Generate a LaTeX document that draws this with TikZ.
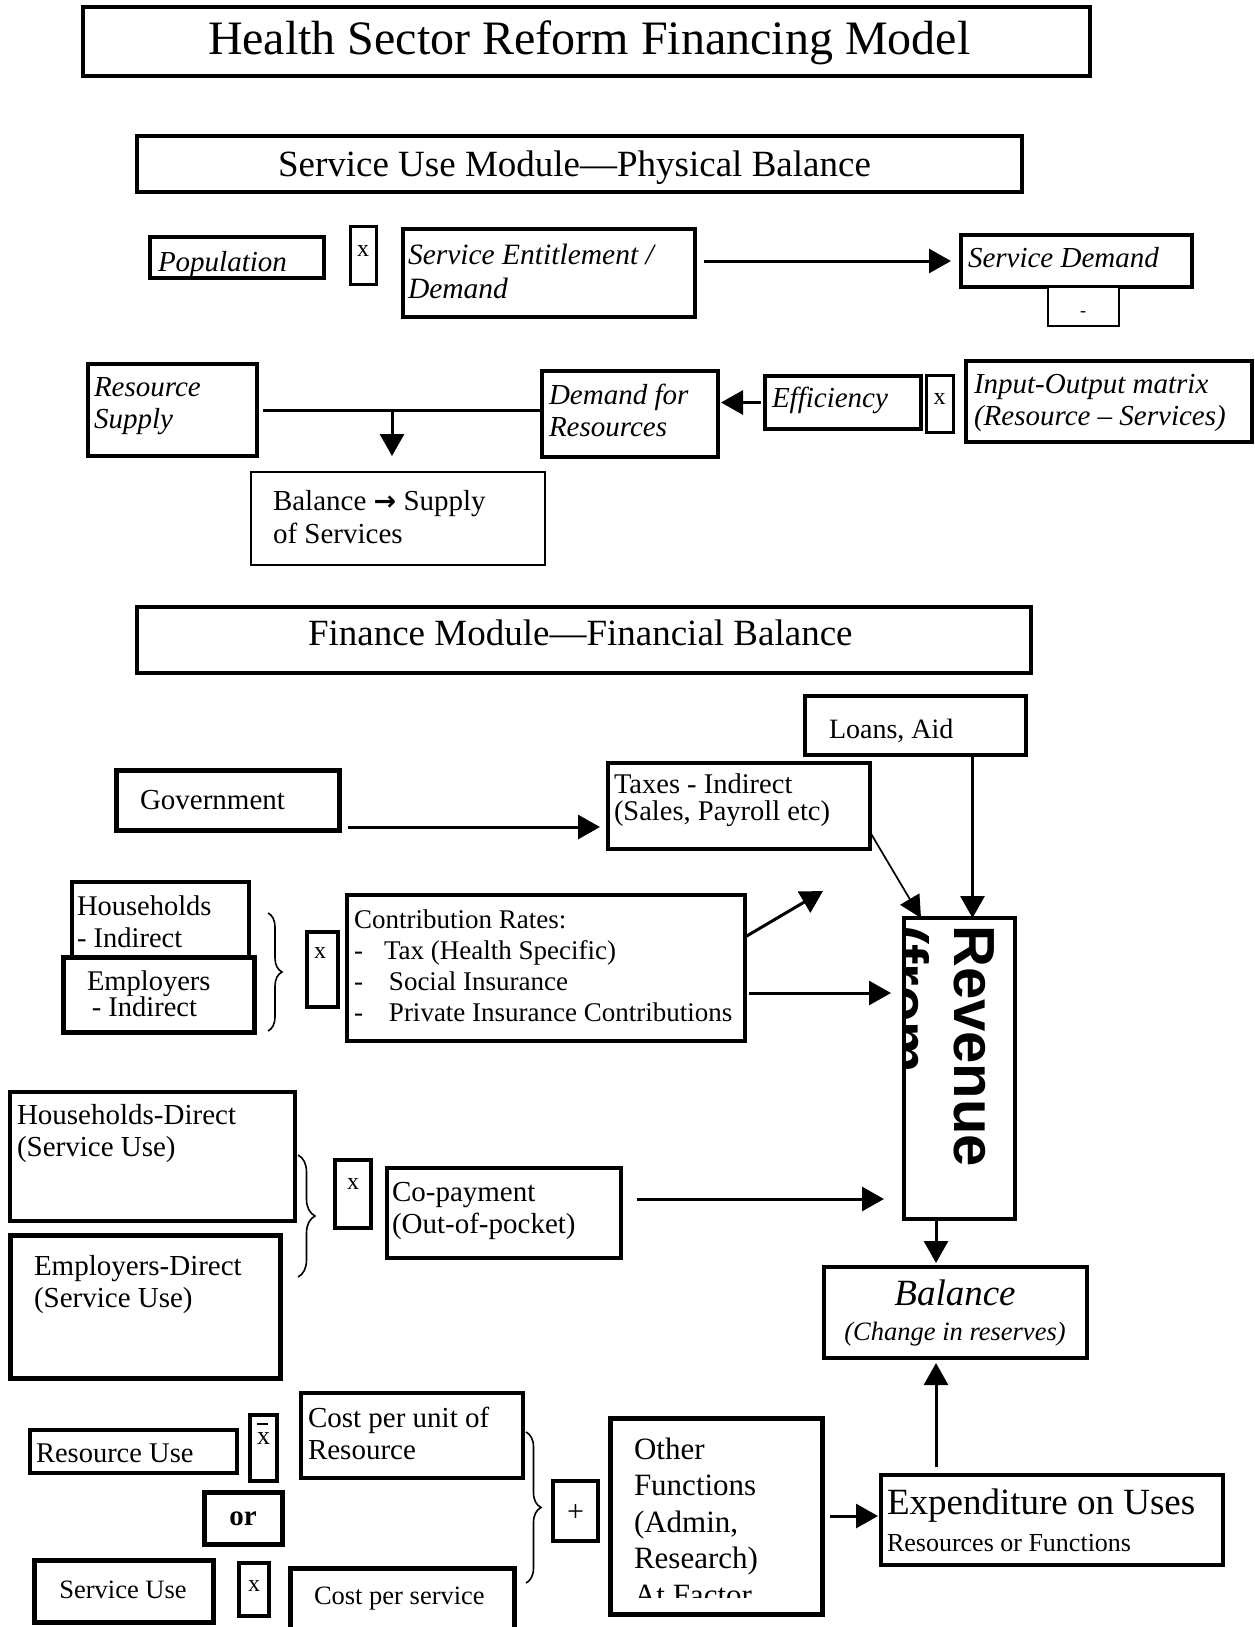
\documentclass[tikz,border=0pt]{standalone}
\usepackage{fontspec}
\setmainfont{Liberation Serif}
\newfontfamily\revfont{Liberation Sans}
\newfontfamily\symf{DejaVu Sans}
\usetikzlibrary{arrows.meta,decorations.pathreplacing,calc}
\newcommand{\fs}[2]{\fontsize{#1pt}{#2pt}\selectfont}
\newcommand{\bx}[6][]{\node[box,#1,anchor=north west,minimum width={(#4-#2)*1pt},minimum height={(#5-#3)*1pt}] (#6) at (#2,#3) {};}
\tikzset{
  box/.style={draw,line width=3.5pt,fill=white,inner sep=0pt,outer sep=0pt},
  arr/.style={line width=3pt,-{Triangle[length=22pt,width=24pt]}},
  thinarr/.style={line width=1.7pt,-{Triangle[length=22pt,width=22pt]}},
  ln/.style={line width=3pt},
  brc/.style={decorate,decoration={brace,amplitude=#1},line width=1.6pt},
  tx/.style={anchor=base west,inner sep=0pt,outer sep=0pt,align=left},
  tc/.style={anchor=base,inner sep=0pt,outer sep=0pt,align=center},
}
\begin{document}
\begin{tikzpicture}[x=1pt,y=-1pt]
\useasboundingbox (0,0) rectangle (1255,1627);

% ---------- title ----------
\bx{83}{7}{1090}{76}{title}
\node[tx,font=\fs{48}{55}] (titleT) at (208,55) {Health Sector Reform Financing Model};

% ---------- service use module ----------
\bx{137}{136}{1022}{192}{sumod}
\node[tx,font=\fs{37}{42}] (sumodT) at (278,176) {Service Use Module—Physical Balance};

\bx{150}{237}{324}{278}{pop}
\begin{scope}
\clip (pop.north west) rectangle ([yshift=2pt]pop.south east);
\node[tx,font=\fs{29}{33}\itshape] (popT) at (158,271) {Population};
\end{scope}
\bx[line width=3pt]{350}{226}{376}{284}{xa}
\node[tc,font=\fs{24}{28}] (xaT) at (363,256) {x};
\bx{403}{229}{695}{317}{sent}
\node[tx,font=\fs{29.5}{34}\itshape] (sentT) at (408,298) {Service Entitlement /\\Demand};
\bx{961}{235}{1192}{287}{sdem}
\node[tx,font=\fs{29}{33}\itshape] (sdemT) at (968,267) {Service Demand};
\bx[line width=2.5pt]{1048}{287}{1119}{326}{minus}
\node[tc,font=\fs{18}{22}] (minusT) at (1083,316) {-};
\draw[arr,shorten <=9pt,shorten >=10pt] (sent.east |- sdem.west) -- (sdem.west);

\bx{88}{364}{257}{456}{rsup}
\node[tx,font=\fs{29}{32}\itshape] (rsupT) at (94,428) {Resource\\Supply};
\bx{542}{371}{718}{457}{dfr}
\node[tx,font=\fs{29}{32}\itshape] (dfrT) at (549,436) {Demand for\\Resources};
\bx{765}{376}{921}{429}{eff}
\node[tx,font=\fs{29}{32}\itshape] (effT) at (772,407) {Efficiency};
\bx[line width=3pt]{926}{375}{953}{432}{xb}
\node[tc,font=\fs{24}{28}] (xbT) at (939.5,404) {x};
\bx{966}{361}{1252}{442}{io}
\node[tx,font=\fs{29}{32}\itshape] (ioT) at (974,425) {Input-Output matrix\\(Resource – Services)};
\draw[arr,shorten <=4pt,shorten >=3pt] (eff.west) -- (eff.west -| dfr.east);
\draw[ln,shorten <=2pt,shorten >=6pt] (dfr.west |- rsup.east) -- (rsup.east);
\coordinate (jn) at (392,410);
\bx[line width=2.5pt]{251}{472}{545}{565}{bsup}
\draw[arr,shorten >=16pt] (jn) -- (jn |- bsup.north);
\node[tx,font=\fs{29}{33}] (bsupT) at (273,543) {Balance {\symf\bfseries\fs{27}{33}→} Supply\\of Services};

% ---------- finance module ----------
\bx{137}{607}{1031}{673}{finmod}
\node[tx,font=\fs{37}{42}] (finmodT) at (308,645) {Finance Module—Financial Balance};

\bx{805}{696}{1026}{755}{loans}
\node[tx,font=\fs{28}{32}] (loansT) at (829,738) {Loans, Aid};
\bx[line width=5pt]{116}{770}{339}{830}{gov}
\node[tx,font=\fs{29}{33}] (govT) at (140,809) {Government};
\bx{608}{763}{870}{849}{taxes}
\node[tx,font=\fs{28.5}{27}] (taxesT) at (614,820) {Taxes - Indirect\\(Sales, Payroll etc)};
\draw[arr,shorten <=9pt,shorten >=8pt] ([yshift=-27pt]gov.east) -- ([yshift=-27pt]gov.east -| taxes.west);

\bx{72}{882}{249}{965}{hhi}
\bx[line width=5pt]{63}{957}{254}{1032}{empi}
\node[tx,font=\fs{28.5}{32}] (hhiT) at (77,947) {Households\\- Indirect};
\node[tx,font=\fs{28.5}{26}] (empiT) at (87,1016) {Employers\\\,- Indirect};
\draw[brc=14pt] (268,913) -- (268,1031);
\bx[line width=3.5pt]{307}{932}{338}{1007}{xc}
\node[tc,font=\fs{24}{28}] (xcT) at (320,958) {x};
\bx{347}{895}{745}{1041}{contr}
\node[tx,font=\fs{27}{31}] (contrT) at (354,1021) {Contribution Rates:\\\makebox[30pt][l]{-}Tax (Health Specific)\\\makebox[35pt][l]{-}Social Insurance\\\makebox[35pt][l]{-}Private Insurance Contributions};

\bx{904}{918}{1015}{1219}{rev}
\begin{scope}
\clip ([xshift=2pt]rev.north west) rectangle (rev.south east);
\node[rotate=-90,anchor=base west,inner sep=0pt,align=left,font=\revfont\bfseries\fs{58}{67}] (revT) at (887,925) {Revenue\\(from};
\end{scope}

\draw[thinarr] ([yshift=-26pt]taxes.east) -- ([xshift=17pt]rev.north west);
\coordinate (revL) at ([xshift=13pt]rev.north);
\draw[arr] (revL |- loans.south) -- (revL);
\coordinate (freeA) at (823,891);
\draw[arr] ([yshift=-42pt]contr.north east) -- (freeA);
\coordinate (c1) at ([yshift=-25pt]contr.east);
\draw[arr,shorten <=4pt,shorten >=13pt] (c1) -- (c1 -| rev.west);

% ---------- direct payments ----------
\bx{10}{1092}{295}{1221}{hhd}
\node[tx,font=\fs{29}{32}] (hhdT) at (17,1156) {Households-Direct\\(Service Use)};
\bx[line width=5pt]{10}{1235}{280}{1378}{empd}
\node[tx,font=\fs{29}{32}] (empdT) at (34,1307) {Employers-Direct\\(Service Use)};
\draw[brc=17pt] (298,1155) -- (298,1277);
\bx{335}{1160}{371}{1228}{xd}
\node[tc,font=\fs{24}{28}] (xdT) at (353,1189) {x};
\bx{387}{1168}{621}{1258}{copay}
\node[tx,font=\fs{29}{32}] (copayT) at (392,1233) {Co-payment\\(Out-of-pocket)};
\coordinate (c2) at ([yshift=14pt]copay.east);
\draw[arr,shorten <=16pt,shorten >=20pt] (c2) -- (c2 -| rev.west);

\bx{824}{1267}{1087}{1358}{bal}
\node[tc,font=\fs{37}{42}\itshape] (balT) at (955,1305) {Balance};
\node[tc,font=\fs{26.5}{30}\itshape] (balT2) at (955,1340) {(Change in reserves)};
\coordinate (c3) at (936,1219);
\draw[arr,shorten >=4pt] (c3) -- (c3 |- bal.north);

% ---------- expenditure ----------
\bx{30}{1430}{237}{1473}{resuse}
\node[tx,font=\fs{28.5}{32}] (resuseT) at (36,1462) {Resource Use};
\bx{250}{1415}{277}{1481}{xe}
\node[tc,font=\fs{26}{30}] (xeT) at (263.5,1444) {\makebox[0pt][l]{\raisebox{19pt}{\rule{11pt}{1.6pt}}}x};
\bx{301}{1393}{523}{1478}{cpu}
\node[tx,font=\fs{29}{32}] (cpuT) at (308,1459) {Cost per unit of\\Resource};
\bx[line width=5pt]{204}{1492}{282}{1544}{orb}
\node[tc,font=\fs{29}{33}\bfseries] (orbT) at (243,1525) {or};
\bx[line width=5pt]{34}{1560}{213}{1622}{suse}
\node[tc,font=\fs{26.5}{30}] (suseT) at (123,1598) {Service Use};
\bx{239}{1563}{269}{1616}{xf}
\node[tc,font=\fs{24}{28}] (xfT) at (254,1591) {x};
\bx[line width=5pt]{290}{1568}{514}{1640}{cps}
\node[tx,font=\fs{26.5}{30}] (cpsT) at (314,1604) {Cost per service};
\draw[brc=15pt] (526,1432) -- (526,1583);
\bx{553}{1481}{598}{1541}{plus}
\node[tc,font=\fs{30}{34}] (plusT) at (575.5,1521) {+};
\bx[line width=5pt]{610}{1418}{822}{1614}{other}
\begin{scope}
\clip (other.north west) rectangle ([yshift=17pt]other.south east);
\node[tx,font=\fs{31}{36.5}] (otherT) at (634,1605) {Other\\Functions\\(Admin,\\Research)\\At Factor};
\end{scope}
\bx{881}{1475}{1223}{1565}{exp}
\node[tx,font=\fs{37}{42}] (expT) at (887,1514) {Expenditure on Uses};
\node[tx,font=\fs{26}{30}] (expT2) at (887,1551) {Resources or Functions};
\draw[arr,shorten <=8pt,shorten >=3pt] (other.east) -- (other.east -| exp.west);
\draw[arr,shorten <=8pt,shorten >=5pt] (c3 |- exp.north) -- (c3 |- bal.south);
\end{tikzpicture}
\end{document}
